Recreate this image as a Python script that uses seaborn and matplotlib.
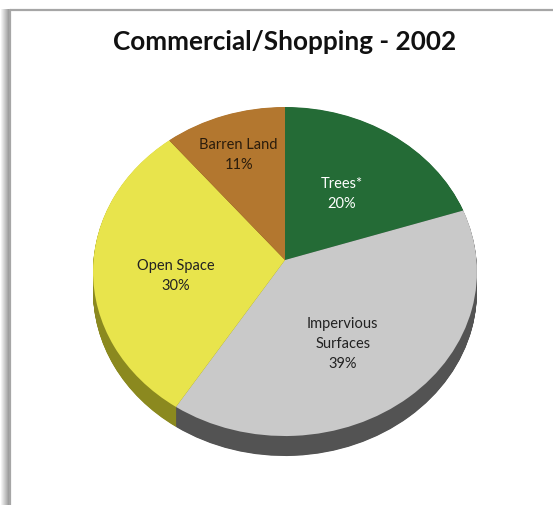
import numpy as np
import matplotlib
matplotlib.use("Agg")
import matplotlib.pyplot as plt
import matplotlib.transforms as mtransforms
import seaborn as sns
from matplotlib.lines import Line2D

sns.set_theme(style="white")
plt.rcParams["font.family"] = ["Lato", "DejaVu Sans"]

# Land cover shares
categories = ["Trees*", "Impervious\nSurfaces", "Open Space", "Barren Land"]
shares = [20, 39, 30, 11]
top_colors = ["#246b36", "#c9c9c9", "#e8e44c", "#b3772f"]
side_colors = ["#163f20", "#535353", "#8b891f", "#6d4818"]
label_colors = ["white", "#222222", "#222222", "#2a1c0c"]
label_radius = [0.52, 0.48, 0.57, 0.75]
label_nudge_px = [0, 19, 9, 4]


class TiltedDisc(mtransforms.Transform):
    """Perspective view of the unit disc lying on a tilted plane (pixel output)."""
    input_dims = output_dims = 2
    is_separable = False
    has_inverse = False

    def __init__(self, cx, cy, rx, ry, k):
        super().__init__()
        self.cx, self.cy, self.rx, self.ry, self.k = cx, cy, rx, ry, k

    def transform_non_affine(self, values):
        values = np.asarray(values, dtype=float)
        x, y = values[:, 0], values[:, 1]
        d = 1 + self.k * y
        return np.column_stack([self.cx + self.rx * x / d, self.cy - self.ry * y / d])


W, H = 553, 506
fig = plt.figure(figsize=(W / 100, H / 100), dpi=100)
fig.patch.set_facecolor("white")
ax = fig.add_axes([0, 0, 1, 1])

tilt = TiltedDisc(cx=285, cy=261, rx=191.5, ry=163.7, k=0.07)
depth_px = 20

# side of the disc: stacked copies pushed down the screen
for off in np.linspace(depth_px, 0.5, 40):
    side, _ = ax.pie(shares, colors=side_colors, startangle=90, counterclock=False,
                     wedgeprops=dict(linewidth=0))
    for w in side:
        w.set_transform(tilt + mtransforms.Affine2D().translate(0, off) + ax.transData)

wedges, _ = ax.pie(shares, colors=top_colors, startangle=90, counterclock=False,
                   wedgeprops=dict(linewidth=0))
for w in wedges:
    w.set_transform(tilt + ax.transData)

for w, name, pct, col, r, dy in zip(wedges, categories, shares, label_colors,
                                    label_radius, label_nudge_px):
    ang = np.deg2rad((w.theta1 + w.theta2) / 2)
    px, py = tilt.transform([[r * np.cos(ang), r * np.sin(ang)]])[0]
    ax.text(px, py + dy, f"{name}\n{pct}%", ha="center", va="center",
            fontsize=10.5, color=col, linespacing=1.55)

ax.set_aspect("auto")
ax.set_xlim(0, W)
ax.set_ylim(H, 0)
ax.axis("off")

# title
ax.text(285, 42, "Commercial/Shopping - 2002", ha="center", va="center",
        fontsize=18.8, fontweight="bold", color="#111111")

# chart frame with soft left shadow
shadow = fig.add_axes([0, 0, 9 / W, 1 - 10 / H])
grad = np.linspace(1.0, 0.62, 9)[None, :]
shadow.imshow(np.repeat(grad, 10, axis=0), cmap="gray", vmin=0, vmax=1, aspect="auto",
              extent=[0, 1, 0, 1])
shadow.axis("off")
fig.add_artist(Line2D([9.5 / W, 1], [1 - 10.5 / H, 1 - 10.5 / H], color="#a6a6a6", lw=1.6,
                      transform=fig.transFigure))
fig.add_artist(Line2D([9.5 / W, 9.5 / W], [0, 1 - 10.5 / H], color="#a6a6a6", lw=1.6,
                      transform=fig.transFigure))

fig.savefig("out.png", dpi=100, facecolor="white")
